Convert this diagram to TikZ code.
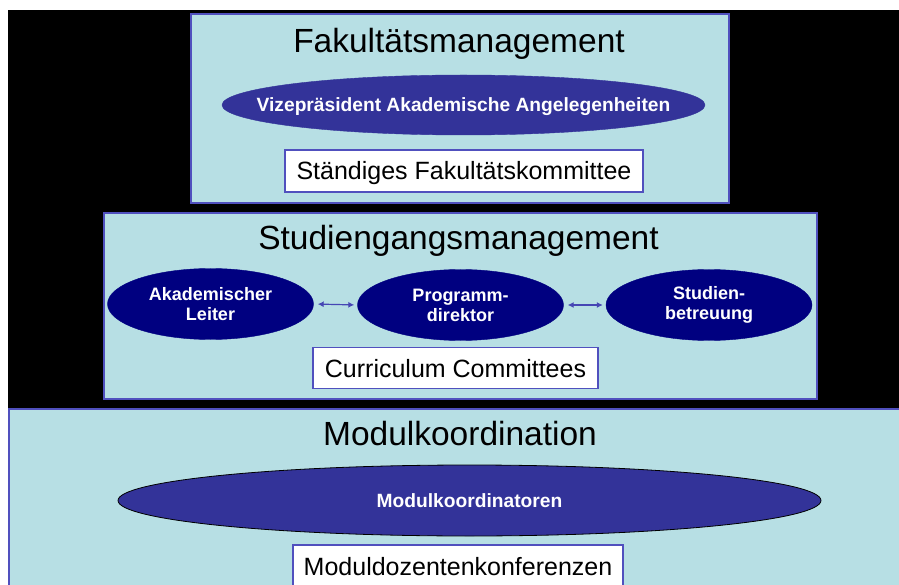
\documentclass[tikz,border=0pt]{standalone}
\usepackage{fontspec}
\setmainfont{Liberation Sans}
\usetikzlibrary{shapes.geometric,arrows.meta}
\definecolor{panelfill}{RGB}{183,223,228}
\definecolor{panelline}{RGB}{80,80,190}
\definecolor{ellA}{RGB}{51,51,153}
\definecolor{ellB}{RGB}{0,0,128}
\definecolor{arrowblue}{RGB}{70,70,180}
\begin{document}
\begin{tikzpicture}[x=1pt,y=-1pt,
  panel/.style={draw=panelline, line width=1.6pt, fill=panelfill, rectangle, inner sep=0pt, anchor=north west},
  titletext/.style={font=\fontsize{33.5}{36}\selectfont, text=black, inner sep=0pt, anchor=base},
  wbox/.style={draw=panelline, line width=1.2pt, fill=white, rectangle, inner sep=0pt,
    font=\fontsize{25}{28}\selectfont, text height=18pt, text depth=0pt},
  ellbig/.style={ellipse, fill=ellA, draw=ellA, inner sep=0pt},
  ellmid/.style={ellipse, fill=ellB, draw=ellB, inner sep=0pt, minimum width=206pt, minimum height=71pt},
  etext/.style={text=white, inner sep=0pt, font=\fontsize{19.2}{21}\selectfont\bfseries, text height=13.7pt, text depth=0pt},
  mtext/.style={text=white, inner sep=0pt, align=center, font=\fontsize{18}{20}\selectfont\bfseries},
  biarrow/.style={draw=arrowblue, line width=1.2pt, {Latex[length=6pt,width=6pt]}-{Latex[length=6pt,width=6pt]}, shorten <=4pt, shorten >=3pt}
]
\useasboundingbox (0,0) rectangle (899,585);
\clip (0,0) rectangle (899,585);
\fill[black] (8,10) rectangle (905,408);

% Fakultaetsmanagement
\node[panel, minimum width=538pt, minimum height=189pt] (fak) at (190,13) {};
\node[titletext] (tfak) at (459,52.5) {Fakultätsmanagement};
\node[ellbig, minimum width=483pt, minimum height=60pt] (vp) at (463.5,105) {};
\node[etext] (vpt) at (vp.center) {Vizepräsident Akademische Angelegenheiten};
\node[wbox, minimum width=358pt, minimum height=42pt] (sfk) at (464,171) {Ständiges Fakultätskommittee};

% Studiengangsmanagement
\node[panel, minimum width=713pt, minimum height=186pt] (stud) at (103,212) {};
\node[titletext] (tstud) at (458.5,250) {Studiengangsmanagement};
\node[ellmid] (al) at (210.5,304) {};
\node[ellmid] (pd) at (460.5,305) {};
\node[ellmid] (sb) at (709,305) {};
\node[mtext] (alt) at (al.center) {Akademischer\\Leiter};
\node[mtext] (pdt) at (pd.center) {Programm-\\direktor};
\node[mtext] (sbt) at (sb.center) {Studien-\\betreuung};
\draw[biarrow] (al.east) -- (pd.west);
\draw[biarrow] (pd.east) -- (sb.west);
\node[wbox, minimum width=285pt, minimum height=41pt] (cc) at (455.5,368) {Curriculum Committees};

% Modulkoordination
\node[panel, minimum width=900pt, minimum height=190pt] (mod) at (8,408) {};
\node[titletext] (tmod) at (460,445) {Modulkoordination};
\node[ellbig, draw=black, line width=0.8pt, minimum width=703pt, minimum height=71pt] (mk) at (469.5,500.5) {};
\node[etext] (mkt) at (mk.center) {Modulkoordinatoren};
\node[wbox, minimum width=330pt, minimum height=42pt] (mdk) at (458,566) {Moduldozentenkonferenzen};
\end{tikzpicture}
\end{document}
